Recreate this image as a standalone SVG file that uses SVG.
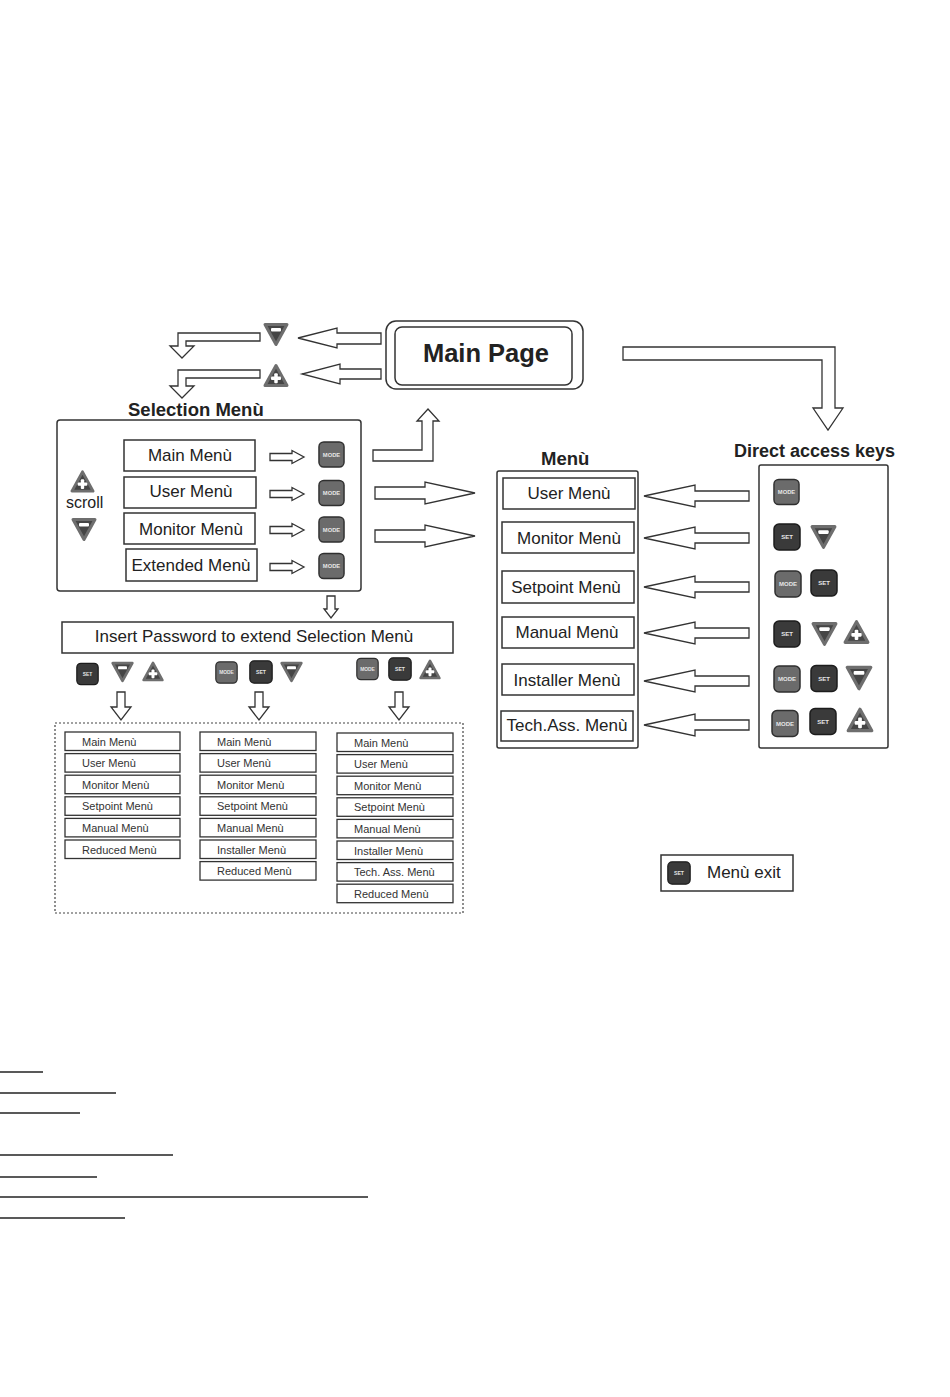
<svg xmlns="http://www.w3.org/2000/svg" xmlns:xlink="http://www.w3.org/1999/xlink" width="950" height="1397" viewBox="0 0 950 1397">
<style>
text{font-family:"Liberation Sans",Arial,sans-serif;fill:#222}
.bold{font-weight:bold}
.box{fill:#fff;stroke:#333;stroke-width:1.5}
.sbox{fill:#fff;stroke:#333;stroke-width:1.3}
.arr{fill:#fff;stroke:#333;stroke-width:1.3;stroke-linejoin:miter}
.t17{font-size:17px}
.t11{font-size:11px;fill:#333}
.uline{stroke:#222;stroke-width:1.6}
</style>
<defs>
<symbol id="tdown" viewBox="0 0 28 26"><polygon points="3,3 25,3 14,23" fill="#454545" stroke="#6e6e6e" stroke-width="3" stroke-linejoin="round"/><rect x="9" y="6.5" width="10" height="3.5" rx="1" fill="#fff"/></symbol>
<symbol id="tup" viewBox="0 0 28 26"><polygon points="14,3 25,23 3,23" fill="#454545" stroke="#6e6e6e" stroke-width="3" stroke-linejoin="round"/><rect x="9" y="14" width="10" height="3.5" rx="1" fill="#fff"/><rect x="12.25" y="10.75" width="3.5" height="10" rx="1" fill="#fff"/></symbol>
<symbol id="mode" viewBox="0 0 28 28"><rect x="1" y="1" width="26" height="26" rx="5" fill="#6b6b6b" stroke="#2f2f2f" stroke-width="1.5"/><text x="14" y="16.2" font-size="6" font-weight="bold" text-anchor="middle" style="fill:#e6e6e6">MODE</text></symbol>
<symbol id="set" viewBox="0 0 28 28"><rect x="1" y="1" width="26" height="26" rx="5" fill="#3a3a3a" stroke="#1c1c1c" stroke-width="1.5"/><text x="14" y="16.2" font-size="6" font-weight="bold" text-anchor="middle" style="fill:#e6e6e6">SET</text></symbol>
</defs>
<rect width="950" height="1397" fill="#fff"/>

<g id="main-page">
<rect x="386" y="321" width="197" height="68" rx="10" class="box"/>
<rect x="395" y="327" width="177" height="58" rx="7" class="box"/>
<text x="486" y="362" font-size="25.5" class="bold" text-anchor="middle">Main Page</text>
</g>

<g id="nav-keys">
<use href="#tdown" x="262" y="321" width="28" height="27"/>
<use href="#tup" x="262" y="362" width="28" height="27"/>
</g>

<g id="selection-menu">
<text x="128" y="416" font-size="18.5" class="bold">Selection Menù</text>
<rect x="57" y="420" width="304" height="171" rx="3" class="box"/>
<use href="#tup" x="69" y="469" width="27" height="25"/>
<text x="66" y="508" font-size="16">scroll</text>
<use href="#tdown" x="70" y="516" width="28" height="27"/>
<rect x="124" y="440" width="131" height="31" class="box"/>
<text x="190" y="461" class="t17" text-anchor="middle">Main Menù</text>
<rect x="124" y="477" width="132" height="31" class="box"/>
<text x="191" y="497" class="t17" text-anchor="middle">User Menù</text>
<rect x="124" y="513" width="131" height="31" class="box"/>
<text x="191" y="535" class="t17" text-anchor="middle">Monitor Menù</text>
<rect x="126" y="549" width="131" height="32" class="box"/>
<text x="191" y="571" class="t17" text-anchor="middle">Extended Menù</text>
<use href="#mode" x="318" y="441" width="27" height="27"/>
<use href="#mode" x="318" y="479" width="27" height="28"/>
<use href="#mode" x="318" y="516" width="27" height="27"/>
<use href="#mode" x="318" y="552" width="27" height="28"/>
</g>

<g id="password">
<rect x="62" y="622" width="391" height="31" class="box"/>
<text x="254" y="642" class="t17" text-anchor="middle">Insert Password to extend Selection Menù</text>
<use href="#set" x="76" y="662" width="23" height="24"/>
<use href="#tdown" x="110" y="660" width="25" height="24"/>
<use href="#tup" x="141" y="660" width="24" height="23"/>
<use href="#mode" x="215" y="661" width="23" height="23"/>
<use href="#set" x="249" y="660" width="24" height="24"/>
<use href="#tdown" x="279" y="660" width="25" height="24"/>
<use href="#mode" x="356" y="657" width="23" height="24"/>
<use href="#set" x="388" y="657" width="24" height="24"/>
<use href="#tup" x="418" y="658" width="24" height="23"/>
</g>

<g id="extended-lists">
<rect x="55" y="723" width="408" height="190" fill="none" stroke="#444" stroke-width="1.2" stroke-dasharray="2,2"/>
<g id="list-1">
<rect x="65" y="732" width="115" height="18.5" class="sbox"/><text x="82" y="745.5" class="t11">Main Menù</text>
<rect x="65" y="753.6" width="115" height="18.5" class="sbox"/><text x="82" y="767.1" class="t11">User Menù</text>
<rect x="65" y="775.2" width="115" height="18.5" class="sbox"/><text x="82" y="788.7" class="t11">Monitor Menù</text>
<rect x="65" y="796.8" width="115" height="18.5" class="sbox"/><text x="82" y="810.3" class="t11">Setpoint Menù</text>
<rect x="65" y="818.4" width="115" height="18.5" class="sbox"/><text x="82" y="831.9" class="t11">Manual Menù</text>
<rect x="65" y="840" width="115" height="18.5" class="sbox"/><text x="82" y="853.5" class="t11">Reduced Menù</text>
</g>
<g id="list-2">
<rect x="200" y="732" width="116" height="18.5" class="sbox"/><text x="217" y="745.5" class="t11">Main Menù</text>
<rect x="200" y="753.6" width="116" height="18.5" class="sbox"/><text x="217" y="767.1" class="t11">User Menù</text>
<rect x="200" y="775.2" width="116" height="18.5" class="sbox"/><text x="217" y="788.7" class="t11">Monitor Menù</text>
<rect x="200" y="796.8" width="116" height="18.5" class="sbox"/><text x="217" y="810.3" class="t11">Setpoint Menù</text>
<rect x="200" y="818.4" width="116" height="18.5" class="sbox"/><text x="217" y="831.9" class="t11">Manual Menù</text>
<rect x="200" y="840" width="116" height="18.5" class="sbox"/><text x="217" y="853.5" class="t11">Installer Menù</text>
<rect x="200" y="861.6" width="116" height="18.5" class="sbox"/><text x="217" y="875.1" class="t11">Reduced Menù</text>
</g>
<g id="list-3">
<rect x="337" y="733" width="116" height="18.5" class="sbox"/><text x="354" y="746.5" class="t11">Main Menù</text>
<rect x="337" y="754.6" width="116" height="18.5" class="sbox"/><text x="354" y="768.1" class="t11">User Menù</text>
<rect x="337" y="776.2" width="116" height="18.5" class="sbox"/><text x="354" y="789.7" class="t11">Monitor Menù</text>
<rect x="337" y="797.8" width="116" height="18.5" class="sbox"/><text x="354" y="811.3" class="t11">Setpoint Menù</text>
<rect x="337" y="819.4" width="116" height="18.5" class="sbox"/><text x="354" y="832.9" class="t11">Manual Menù</text>
<rect x="337" y="841" width="116" height="18.5" class="sbox"/><text x="354" y="854.5" class="t11">Installer Menù</text>
<rect x="337" y="862.6" width="116" height="18.5" class="sbox"/><text x="354" y="876.1" class="t11">Tech. Ass. Menù</text>
<rect x="337" y="884.2" width="116" height="18.5" class="sbox"/><text x="354" y="897.7" class="t11">Reduced Menù</text>
</g>
</g>

<g id="menu">
<text x="541" y="465" font-size="18.5" class="bold">Menù</text>
<rect x="497" y="471" width="141" height="277" rx="2" class="box"/>
<rect x="503" y="478" width="132" height="31" class="box"/>
<text x="569" y="499" class="t17" text-anchor="middle">User Menù</text>
<rect x="502" y="522" width="132" height="31" class="box"/>
<text x="569" y="544" class="t17" text-anchor="middle">Monitor Menù</text>
<rect x="502" y="571" width="132" height="32" class="box"/>
<text x="566" y="593" class="t17" text-anchor="middle">Setpoint Menù</text>
<rect x="502" y="617" width="132" height="31" class="box"/>
<text x="567" y="638" class="t17" text-anchor="middle">Manual Menù</text>
<rect x="502" y="664" width="132" height="31" class="box"/>
<text x="567" y="686" class="t17" text-anchor="middle">Installer Menù</text>
<rect x="501" y="711" width="132" height="30" class="box"/>
<text x="567" y="731" class="t17" text-anchor="middle">Tech.Ass. Menù</text>
</g>

<g id="direct-access-keys">
<text x="734" y="457" font-size="18" class="bold">Direct access keys</text>
<rect x="759" y="465" width="129" height="283" rx="2" class="box"/>
<use href="#mode" x="773" y="478" width="27" height="28"/>
<use href="#set" x="773" y="523" width="28" height="28"/>
<use href="#tdown" x="809" y="523" width="29" height="28"/>
<use href="#mode" x="774" y="570" width="28" height="28"/>
<use href="#set" x="810" y="569" width="28" height="28"/>
<use href="#set" x="773" y="620" width="28" height="28"/>
<use href="#tdown" x="810" y="620" width="29" height="28"/>
<use href="#tup" x="842" y="618" width="29" height="28"/>
<use href="#mode" x="773" y="665" width="28" height="28"/>
<use href="#set" x="810" y="664" width="28" height="29"/>
<use href="#tdown" x="844" y="663" width="30" height="30"/>
<use href="#mode" x="771" y="709" width="28" height="29"/>
<use href="#set" x="809" y="707" width="28" height="29"/>
<use href="#tup" x="845" y="706" width="30" height="28"/>
</g>

<g id="menu-exit">
<rect x="661" y="855" width="132" height="36" class="box"/>
<use href="#set" x="667" y="861" width="24" height="24"/>
<text x="707" y="878" class="t17">Menù exit</text>
</g>

<g id="connectors">
<path class="arr" d="M381,333 H337 V328 L298,338 L337,348 V344 H381 Z"/>
<path class="arr" d="M381,369 H340 V364 L302,374 L340,384 V379 H381 Z"/>
<path class="arr" d="M260,333 H178 V346 H170 L182,358 L194,346 H186 V341 H260 Z"/>
<path class="arr" d="M260,370 H178 V386 H170 L182,398 L194,386 H186 V378 H260 Z"/>
<path class="arr" d="M373,450 H422 V421 H417 L428,409 L439,421 H433 V461 H373 Z"/>
<path class="arr" d="M623,347 H835 V408 H843 L828,430 L813,408 H822 V360 H623 Z"/>
<path class="arr" d="M375,487 H425 V482 L475,493 L425,504 V499 H375 Z"/>
<path class="arr" d="M375,530 H425 V525 L475,536 L425,547 V542 H375 Z"/>
<path class="arr" d="M270,453.5 H292 V450.5 L304,457 L292,463.5 V460.5 H270 Z"/>
<path class="arr" d="M270,490.5 H292 V487.5 L304,494 L292,500.5 V497.5 H270 Z"/>
<path class="arr" d="M270,526.5 H292 V523.5 L304,530 L292,536.5 V533.5 H270 Z"/>
<path class="arr" d="M270,563.5 H292 V560.5 L304,567 L292,573.5 V570.5 H270 Z"/>
<path class="arr" d="M327,596 V609 H324 L331,618 L338,609 H335 V596 Z"/>
<path class="arr" d="M117,692 V707 H111 L121,720 L131,707 H125 V692 Z"/>
<path class="arr" d="M255,692 V707 H249 L259,720 L269,707 H263 V692 Z"/>
<path class="arr" d="M395,692 V707 H389 L399,720 L409,707 H403 V692 Z"/>
<path class="arr" d="M749,491 H695 V485 L644,496 L695,507 V501 H749 Z"/>
<path class="arr" d="M749,533 H695 V527 L644,538 L695,549 V543 H749 Z"/>
<path class="arr" d="M749,582 H695 V576 L644,587 L695,598 V592 H749 Z"/>
<path class="arr" d="M749,628 H695 V622 L644,633 L695,644 V638 H749 Z"/>
<path class="arr" d="M749,676 H695 V670 L644,681 L695,692 V686 H749 Z"/>
<path class="arr" d="M749,720 H695 V714 L644,725 L695,736 V730 H749 Z"/>
</g>

<g id="blank-lines">
<line x1="0" y1="1072" x2="43" y2="1072" class="uline"/>
<line x1="0" y1="1093" x2="116" y2="1093" class="uline"/>
<line x1="0" y1="1113" x2="80" y2="1113" class="uline"/>
<line x1="0" y1="1155" x2="173" y2="1155" class="uline"/>
<line x1="0" y1="1177" x2="97" y2="1177" class="uline"/>
<line x1="0" y1="1197" x2="368" y2="1197" class="uline"/>
<line x1="0" y1="1218" x2="125" y2="1218" class="uline"/>
</g>
</svg>
